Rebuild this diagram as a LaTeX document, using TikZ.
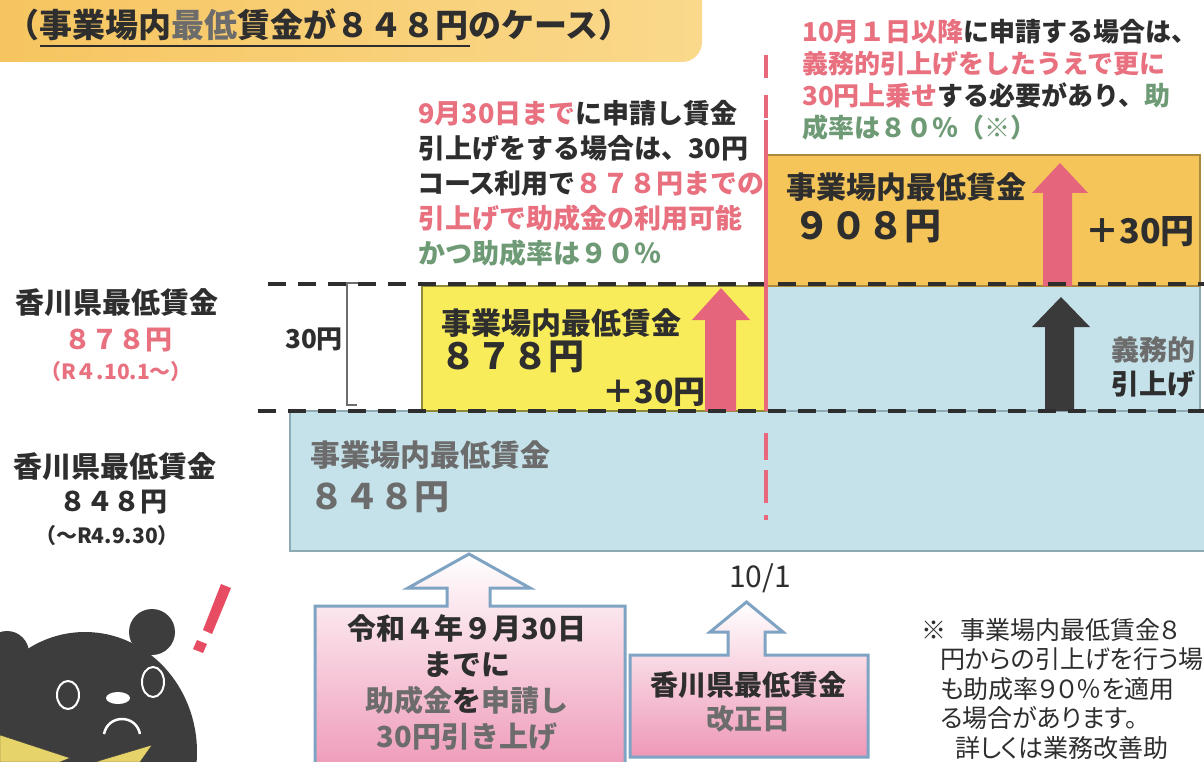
\documentclass[tikz,border=0pt]{standalone}
\usepackage{fontspec}
\setmainfont{Noto Sans CJK JP}
\newfontfamily\jpprop{Noto Sans CJK JP}[RawFeature=+palt]
\newcommand\jfs[2]{\fontsize{#1}{#2}\selectfont}

\definecolor{ink}{HTML}{2E2E2E}
\definecolor{inkgray}{HTML}{6C6C6C}
\definecolor{accent}{HTML}{E8707F}
\definecolor{rate}{HTML}{6E9B75}
\definecolor{lemon}{HTML}{F9EC5A}
\definecolor{gold}{HTML}{F5C55A}
\definecolor{skyfill}{HTML}{C5E2EB}
\definecolor{skyedge}{HTML}{8EABB5}
\definecolor{arrowpink}{HTML}{E5667C}
\definecolor{arrowdark}{HTML}{3A3A3A}
\definecolor{datepink}{HTML}{E8677B}
\definecolor{tagedge}{HTML}{7FA3C3}
\definecolor{tagpink}{HTML}{EE98B7}
\definecolor{barorange}{HTML}{F6C45E}
\definecolor{barlight}{HTML}{FAD98C}
\definecolor{bearfill}{HTML}{3D3D3D}
\definecolor{collar}{HTML}{E6D46A}
\definecolor{excl}{HTML}{E84C63}

\begin{document}
\begin{tikzpicture}[x=1pt,y=-1pt,
  every node/.style={inner sep=0pt,text=ink},
  wage/.style={font=\jfs{#1}{#1}\bfseries},
  skybox/.style={fill=skyfill,draw=skyedge,line width=2pt},
  lvl/.style={draw=ink,line width=4pt,dash pattern=on 18pt off 12pt},
  tagbox/.style={draw=tagedge,line width=3pt,top color=white,bottom color=tagpink},
  bear/.style={fill=bearfill}]

\useasboundingbox (0,0) rectangle (1204,762);
\clip (0,0) rectangle (1204,762);
\fill[white] (0,0) rectangle (1204,762);

% title bar
\shade[left color=barorange,right color=barlight,rounded corners=20pt] (-30,-30) rectangle (702,62);
\node[anchor=west,wage=33] (title) at (6,25) {（事業場内{\color{inkgray}最低}賃金が８４８円のケース）};
\draw[ink,line width=1.5pt] (40,46) -- (470,46);

% wage levels
\draw[skybox] (290,411) rectangle (1215,551);
\draw[skybox] (766,286) rectangle (1200,411);
\draw[fill=lemon,draw=olive!60!gray,line width=1.5pt] (422,286) rectangle (766,411);
\draw[fill=gold,draw=gold!70!black,line width=1.5pt] (766,155) rectangle (1200,286);

\node[anchor=west,wage=30,text=inkgray] (name848) at (310,455) {事業場内最低賃金};
\node[anchor=west,wage=35,text=inkgray] (amt848) at (309,497) {８４８円};
\node[anchor=west,wage=30] (name878) at (441,323) {事業場内最低賃金};
\node[anchor=west,wage=36] (amt878) at (440,357) {８７８円};
\node[anchor=east,wage=32] (plus878) at (706,392) {＋30円};
\node[anchor=west,wage=30] (name908) at (786,187) {事業場内最低賃金};
\node[anchor=west,wage=37] (amt908) at (793,227) {９０８円};
\node[anchor=east,wage=34] (plus908) at (1195,232) {＋30円};
\node[wage=28,text=inkgray] (duty) at (1153,350) {義務的};
\node[wage=28] (rise) at (1153,384) {引上げ};

\fill[arrowpink] (705,411) -- (705,320) -- (692,320) -- (721,288) -- (750,320) -- (736,320) -- (736,411) -- cycle;
\fill[arrowpink] (1043,286) -- (1043,193) -- (1032,193) -- (1060,163) -- (1088,193) -- (1072,193) -- (1072,286) -- cycle;
\fill[arrowdark] (1045,411) -- (1045,327) -- (1032,327) -- (1061,297) -- (1090,327) -- (1074,327) -- (1074,411) -- cycle;

\draw[lvl] (268,284) -- (1204,284);
\draw[lvl] (258,411) -- (1204,411);

% 10/1 line
\draw[datepink,line width=4.5pt,dash pattern=on 23pt off 17pt] (766,55) -- (766,120);
\draw[datepink,line width=4.5pt] (766,120) -- (766,411);
\draw[datepink,line width=4.5pt,dash pattern=on 27pt off 10pt on 33pt off 12pt on 5pt off 20pt] (766,433) -- (766,522);

\draw[ink!70,line width=1.2pt] (358,283) -- (347,283) -- (347,405) -- (357,405);
\node[wage=26] (gap) at (314,339) {30円};

% prefecture minimum wage
\node[wage=29] (prefA) at (117,303) {香川県最低賃金};
\node[wage=27,text=accent] (prefAval) at (118,340) {８７８円};
\node[wage=21,text=accent] (prefAday) at (116,372) {（R４.10.1～）};
\node[wage=29] (prefB) at (115,467) {香川県最低賃金};
\node[wage=27] (prefBval) at (113,502) {８４８円};
\node[wage=21] (prefBday) at (107,536) {（～R4.9.30）};

\node[anchor=west,align=left,font=\jfs{27}{35}\bfseries] (before) at (418,183)
  {{\color{accent}9月30日まで}に申請し賃金\\
   引上げをする場合は、30円\\
   {\jpprop コース}利用で{\color{accent}８７８円までの}\\
   {\color{accent}引上げで助成金の利用可能}\\
   {\color{rate}かつ助成率は９０％}};
\node[anchor=west,align=left,font=\jfs{26}{32}\bfseries] (after) at (802,80)
  {{\color{accent}10月１日以降}に申請する場合は、\\
   {\color{accent}義務的引上げをしたうえで更に}\\
   {\color{accent}30円上乗せ}する必要があり、{\color{rate}助}\\
   {\color{rate}成率は８０％（※）}};

% dates below
\draw[tagbox] (315,775) -- (315,606) -- (447,606) -- (447,588) -- (408,588) -- (469,554) -- (530,588) -- (490,588) -- (490,606) -- (625,606) -- (625,775);
\node[align=center,font=\jfs{29}{36}\bfseries] (apply) at (467,683)
  {令和４年９月30日\\までに\\{\color{inkgray}助成金}を{\color{inkgray}申請し}\\{\color{inkgray}30円引き上げ}};
\draw[tagbox] (630,757) -- (630,655) -- (728,655) -- (728,632) -- (710,632) -- (746.5,602) -- (783,632) -- (765,632) -- (765,655) -- (868,655) -- (868,757) -- cycle;
\node[align=center,font=\jfs{28}{34}\bfseries] (revise) at (748,702) {香川県最低賃金\\{\color{inkgray}改正日}};
\node[font=\jfs{30}{30}] (day) at (760,578) {10/1};

\node[anchor=west,align=left,font=\jfs{25}{29.5}\jpprop] (note) at (921,689)
  {※\hspace*{14pt}事業場内最低賃金８\\
   \hspace*{19pt}円からの引上げを行う場\\
   \hspace*{19pt}も助成率９０％を適用\\
   \hspace*{19pt}る場合があります。\\
   \hspace*{34pt}詳しくは業務改善助};

% bear
\fill[bear] (7,653) circle (22pt);
\fill[bear] (152,632) circle (23pt);
\fill[bear] (85,752) ellipse (112pt and 120pt);
\draw[white,line width=2pt] (68,695) ellipse (11pt and 14pt);
\draw[white,line width=2pt] (153,682) ellipse (11pt and 15pt);
\fill[white] (118,698) ellipse (12pt and 6pt);
\draw[white,line width=2.5pt] (104,734) .. controls (108,714) and (136,714) .. (140,734);
\draw[fill=collar,draw=bearfill] (0,735) -- (70,758) -- (60,762) -- (0,762) -- cycle;
\draw[fill=collar,draw=bearfill] (95,762) -- (152,745) -- (140,762) -- cycle;
\fill[excl] (221,584) -- (231,588) -- (212,634) -- (203,630) -- cycle;
\fill[excl] (197,640) -- (207,644) -- (203,653) -- (193,649) -- cycle;
\end{tikzpicture}
\end{document}
